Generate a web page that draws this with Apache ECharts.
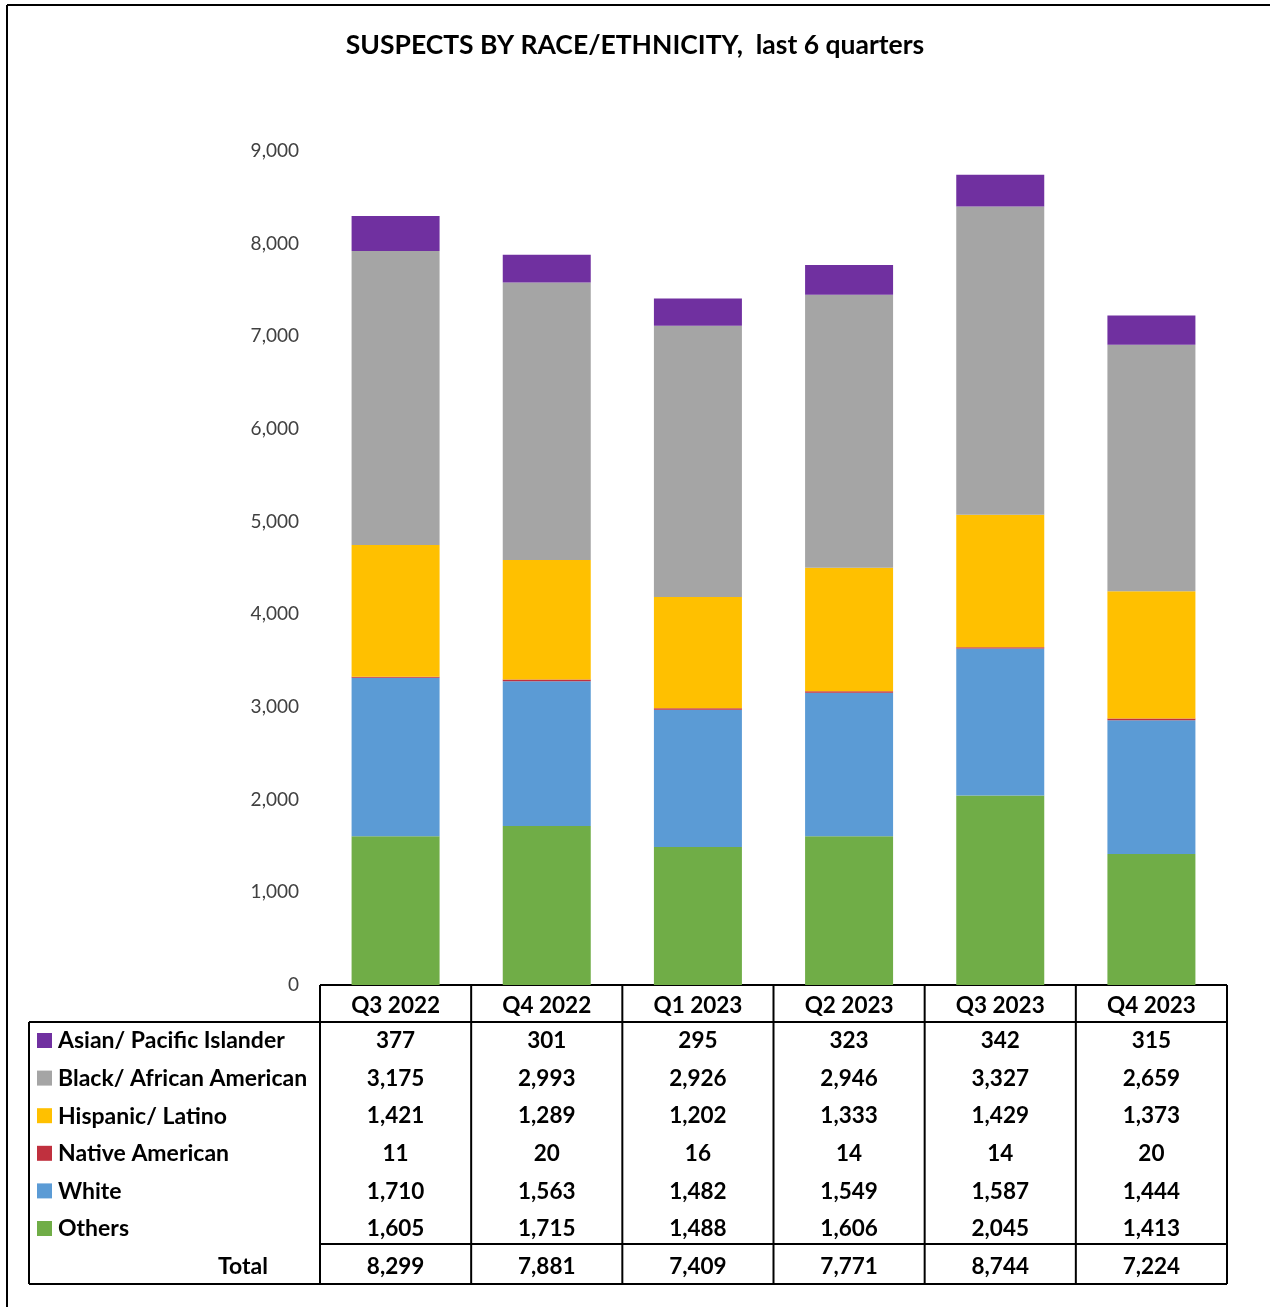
<!DOCTYPE html>
<html>
<head>
<meta charset="utf-8">
<script src="https://cdn.jsdelivr.net/npm/echarts@6/dist/echarts.min.js"></script>
<style>
html,body{margin:0;padding:0;background:#fff}
#main{width:1270px;height:1307px}
</style>
</head>
<body>
<div id="main"></div>
<script>
var quarters=['Q3 2022','Q4 2022','Q1 2023','Q2 2023','Q3 2023','Q4 2023']
var asian=[377,301,295,323,342,315]
var black=[3175,2993,2926,2946,3327,2659]
var hispanic=[1421,1289,1202,1333,1429,1373]
var nativeAm=[11,20,16,14,14,20]
var white=[1710,1563,1482,1549,1587,1444]
var others=[1605,1715,1488,1606,2045,1413]
var yTicks=[0,1000,2000,3000,4000,5000,6000,7000,8000,9000]

//表格行顺序(从上到下)
var rows=[
    {name:'Asian/ Pacific Islander',data:asian,color:'#7030a0'},
    {name:'Black/ African American',data:black,color:'#a5a5a5'},
    {name:'Hispanic/ Latino',data:hispanic,color:'#ffc000'},
    {name:'Native American',data:nativeAm,color:'#c0303e'},
    {name:'White',data:white,color:'#5b9bd5'},
    {name:'Others',data:others,color:'#70ad47'}
]

var FONT='Lato'
var gl=320,gr=43,gt=151,gb=322
var W=1270,H=1307

function fmt(v){return v.toLocaleString('en-US')}
function $each(arr,fn){for(var i=0;i<arr.length;i++)fn(arr[i],i)}

//表格
function buildGraphic(){
    var g=[]
    var x0=gl,x1=W-gr,colW=(x1-x0)/quarters.length
    var hTop=H-gb,hBot=1022,tBot=1284,tLeft=29,totLine=1244
    var lineStyle={stroke:'#000',lineWidth:2}
    var labFont='bold 23px '+FONT,numFont='bold 22.5px '+FONT
    function ln(a,b,c,d){g.push({type:'line',shape:{x1:a,y1:b,x2:c,y2:d},style:lineStyle,silent:true})}
    // 外框
    ln(7,5,W,5)
    ln(7,5,7,H)
    // 表格线
    ln(x0,hTop,x1,hTop)
    ln(tLeft,hBot,x1,hBot)
    ln(tLeft,tBot,x1,tBot)
    ln(tLeft,hBot,tLeft,tBot)
    ln(x0,totLine,x1,totLine)
    for(var i=0;i<=quarters.length;i++){
        ln(x0+colW*i,hTop,x0+colW*i,tBot)
    }
    var rowH=37.6
    $each(rows,function(r,k){
        var cy=1041+rowH*k
        g.push({type:'rect',shape:{x:37,y:cy-8,width:15,height:15},style:{fill:r.color},silent:true})
        g.push({type:'text',x:58,y:cy,style:{text:r.name,font:labFont,fill:'#000',verticalAlign:'middle'},silent:true})
        $each(r.data,function(v,j){
            g.push({type:'text',x:x0+colW*(j+0.5),y:cy,style:{text:fmt(v),font:numFont,fill:'#000',align:'center',verticalAlign:'middle'},silent:true})
        })
    })
    var ty=1041+rowH*6
    g.push({type:'text',x:268,y:ty,style:{text:'Total',font:labFont,fill:'#000',align:'right',verticalAlign:'middle'},silent:true})
    $each(quarters,function(q,j){
        var s=0
        $each(rows,function(r){s+=r.data[j]})
        g.push({type:'text',x:x0+colW*(j+0.5),y:ty,style:{text:fmt(s),font:numFont,fill:'#000',align:'center',verticalAlign:'middle'},silent:true})
    })
    return g
}

//图表
function drawChar(){
    var myChart=echarts.init(document.getElementById('main'))
    // 堆叠顺序:从下到上
    var stackOrder=rows.slice().reverse()
    var series=[]
    $each(stackOrder,function(r){
        series.push({
            name:r.name,type:'bar',stack:'total',barWidth:88,
            itemStyle:{color:r.color},
            data:r.data
        })
    })
    var option={
        animation:false,
        title:{
            text:'SUSPECTS BY RACE/ETHNICITY,  last 6 quarters',
            left:'center',top:27,
            textStyle:{fontFamily:FONT,fontWeight:'bold',fontSize:26.5,color:'#000'}
        },
        grid:{left:gl,right:gr,top:gt,bottom:gb},
        xAxis:{
            type:'category',data:quarters,
            axisLine:{show:false},axisTick:{show:false},
            axisLabel:{fontFamily:FONT,fontWeight:'bold',fontSize:22.5,color:'#000',margin:9}
        },
        yAxis:{
            type:'value',min:yTicks[0],max:yTicks[yTicks.length-1],interval:1000,
            splitLine:{show:false},axisLine:{show:false},axisTick:{show:false},
            axisLabel:{fontFamily:FONT,fontSize:19,color:'#404040',margin:21,
                formatter:function(v){return fmt(v)}}
        },
        series:series,
        graphic:buildGraphic()
    }
    myChart.setOption(option)
}

drawChar()
</script>
</body>
</html>
